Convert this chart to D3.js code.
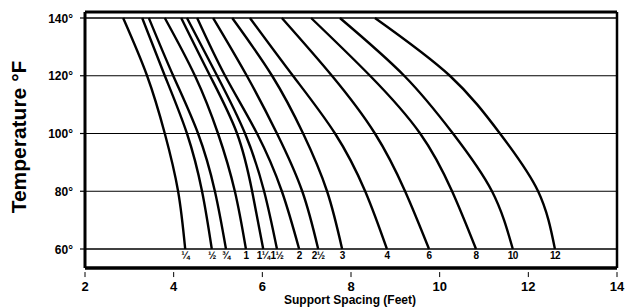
<!DOCTYPE html>
<html>
<head>
<meta charset="utf-8">
<script src="https://cdn.jsdelivr.net/npm/d3@7"></script>
<style>
    html, body { margin: 0; padding: 0; background: #fff; }
    svg { display: block; font-family: "Liberation Sans", Arial, Helvetica, sans-serif; }
</style>
</head>
<body>
<svg id="chart"></svg>
<script>
// Chart data (support spacing in feet)
const temps = [140, 120, 100, 80, 60];
const sizes = ['¼', '½', '¾', '1', '1¼', '1½', '2', '2½', '3', '4', '6', '8', '10', '12'];
const spacing = [
    [2.86, 3.40, 3.80, 4.10, 4.26],
    [3.29, 3.80, 4.30, 4.64, 4.86],
    [3.44, 3.99, 4.55, 4.93, 5.18],
    [3.80, 4.48, 5.00, 5.38, 5.63],
    [4.17, 4.82, 5.43, 5.77, 6.02],
    [4.30, 4.98, 5.61, 6.04, 6.33],
    [4.53, 5.16, 5.88, 6.44, 6.83],
    [4.89, 5.65, 6.33, 6.90, 7.26],
    [5.32, 6.22, 6.92, 7.46, 7.80],
    [5.72, 6.69, 7.64, 8.32, 8.81],
    [6.44, 7.57, 8.54, 9.22, 9.76],
    [7.10, 8.43, 9.56, 10.28, 10.82],
    [7.75, 9.20, 10.30, 11.18, 11.65],
    [8.54, 10.23, 11.36, 12.22, 12.60]
];
const xTicks = [2, 4, 6, 8, 10, 12, 14];
const yTicks = [60, 80, 100, 120, 140];

const width = 625;
const height = 308;

const svg = d3.select('#chart')
    .attr('width', width)
    .attr('height', height);

// Scales
const x = d3.scaleLinear().domain([2, 14]).range([85, 617]);
const y = d3.scaleLinear().domain([60, 140]).range([249, 18]);
const frameTop = y(142.1);
const frameBottom = y(53.4);

// Horizontal grid lines
svg.append('g')
    .selectAll('line')
    .data(yTicks)
    .enter().append('line')
    .attr('x1', x(2))
    .attr('x2', x(14))
    .attr('y1', d => y(d))
    .attr('y2', d => y(d))
    .attr('stroke', '#000')
    .attr('stroke-width', d => (d === 60 || d === 140) ? 1.6 : 1.1);

// Y axis ticks + labels
const yAxis = svg.append('g');
yAxis.selectAll('line')
    .data(yTicks)
    .enter().append('line')
    .attr('x1', x(2) - 5)
    .attr('x2', x(2))
    .attr('y1', d => y(d))
    .attr('y2', d => y(d))
    .attr('stroke', '#000')
    .attr('stroke-width', 1.2);
yAxis.selectAll('text')
    .data(yTicks)
    .enter().append('text')
    .attr('x', 73)
    .attr('y', d => y(d) + 4.5)
    .attr('text-anchor', 'end')
    .style('font-size', '12px')
    .style('font-weight', 'bold')
    .text(d => d + '°');

// X axis ticks + labels
const xAxis = svg.append('g');
xAxis.selectAll('line')
    .data(xTicks)
    .enter().append('line')
    .attr('x1', d => x(d))
    .attr('x2', d => x(d))
    .attr('y1', frameBottom + 4)
    .attr('y2', frameBottom + 9)
    .attr('stroke', '#000')
    .attr('stroke-width', 1);
xAxis.selectAll('text')
    .data(xTicks)
    .enter().append('text')
    .attr('x', d => x(d))
    .attr('y', 291)
    .attr('text-anchor', 'middle')
    .style('font-size', '13px')
    .style('font-weight', 'bold')
    .text(d => d);

// Frame
svg.append('line')
    .attr('x1', x(2)).attr('x2', x(14))
    .attr('y1', frameTop).attr('y2', frameTop)
    .attr('stroke', '#000').attr('stroke-width', 3);
svg.append('line')
    .attr('x1', x(2)).attr('x2', x(14))
    .attr('y1', frameBottom).attr('y2', frameBottom)
    .attr('stroke', '#000').attr('stroke-width', 3.5);
svg.append('line')
    .attr('x1', x(2)).attr('x2', x(2))
    .attr('y1', frameTop).attr('y2', frameBottom)
    .attr('stroke', '#000').attr('stroke-width', 3);
svg.append('line')
    .attr('x1', x(14)).attr('x2', x(14))
    .attr('y1', frameTop).attr('y2', frameBottom)
    .attr('stroke', '#000').attr('stroke-width', 2.5);

// Curves, one per pipe size
const line = d3.line()
    .x(d => x(d[0]))
    .y(d => y(d[1]))
    .curve(d3.curveNatural);

svg.append('g')
    .selectAll('path')
    .data(spacing)
    .enter().append('path')
    .attr('d', row => line(row.map((v, i) => [v, temps[i]])))
    .attr('fill', 'none')
    .attr('stroke', '#000')
    .attr('stroke-width', 2.4);

// Pipe size labels under the curves
svg.append('g')
    .selectAll('text')
    .data(sizes)
    .enter().append('text')
    .attr('x', (d, i) => x(spacing[i][temps.length - 1]))
    .attr('y', y(60) + 10)
    .attr('text-anchor', 'middle')
    .style('font-size', '10px')
    .style('font-weight', 'bold')
    .style('letter-spacing', '-0.6px')
    .text(d => d);

// Axis titles
svg.append('text')
    .attr('x', 350)
    .attr('y', 304)
    .attr('text-anchor', 'middle')
    .style('font-size', '12px')
    .style('font-weight', 'bold')
    .text('Support Spacing (Feet)');

svg.append('text')
    .attr('transform', 'translate(26,137) rotate(-90)')
    .attr('text-anchor', 'middle')
    .style('font-size', '21px')
    .style('font-weight', 'bold')
    .text('Temperature °F');
</script>
</body>
</html>
